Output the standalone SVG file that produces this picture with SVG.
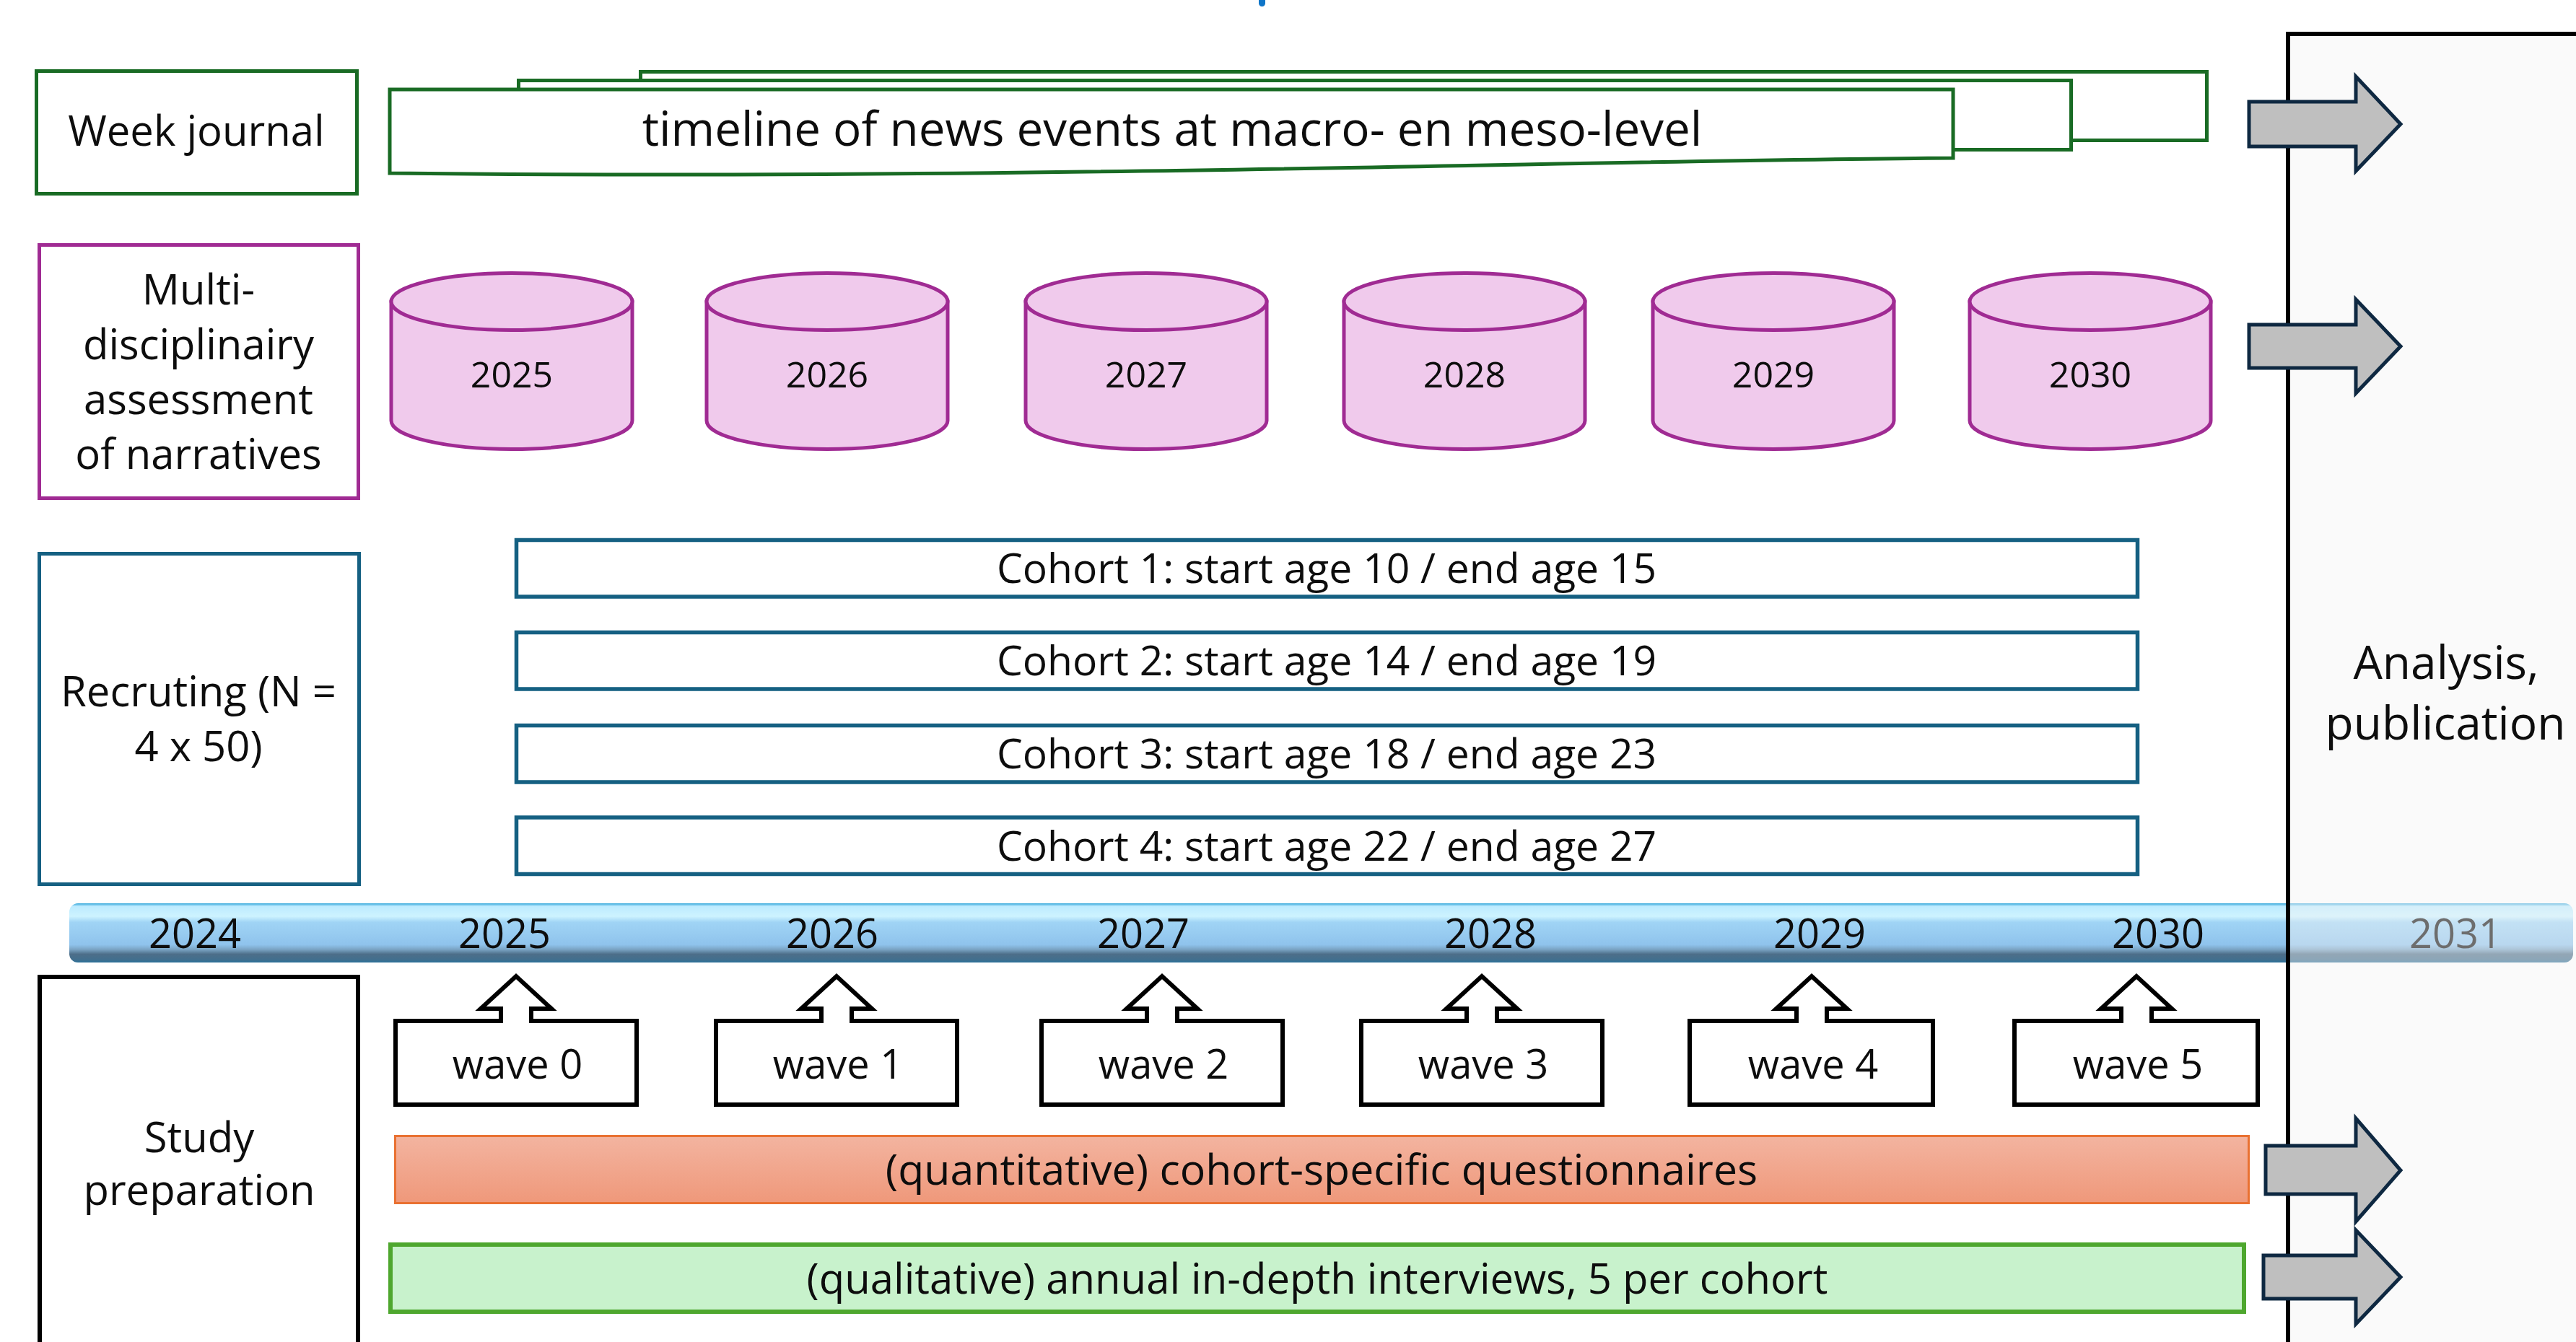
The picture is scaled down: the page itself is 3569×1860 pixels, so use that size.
<svg xmlns="http://www.w3.org/2000/svg" width="3569" height="1860" viewBox="0 0 3569 1860">
<defs>
<style>
.t{font-family:"Open Sans","Noto Sans","Liberation Sans",sans-serif;fill:#0d0d0d;text-anchor:middle}
.lbl{font-size:58px}
.coh{font-size:57px}
.yr{font-size:56px}
.cyl{fill:#F0CAEC;stroke:#A02B93;stroke-width:5}
.cohort{fill:#fff;stroke:#156082;stroke-width:5.5}
.wave{fill:#fff;stroke:#000;stroke-width:6;stroke-linejoin:miter}
.arr{fill:#BFBFBF;stroke:#0E2841;stroke-width:5;stroke-linejoin:miter}
.doc{fill:#fff;stroke:#196B24;stroke-width:5}
</style>
<linearGradient id="bar" x1="0" y1="0" x2="0" y2="1">
<stop offset="0" stop-color="#33A6DA"/>
<stop offset="0.05" stop-color="#BDEBFF"/>
<stop offset="0.22" stop-color="#CDF3FF"/>
<stop offset="0.32" stop-color="#A0D4F5"/>
<stop offset="0.7" stop-color="#8FC3EC"/>
<stop offset="0.78" stop-color="#7AA4C4"/>
<stop offset="0.86" stop-color="#4D6E89"/>
<stop offset="0.95" stop-color="#426F8E"/>
<stop offset="1" stop-color="#2A7098"/>
</linearGradient>
<linearGradient id="orange" x1="0" y1="0" x2="0" y2="1">
<stop offset="0" stop-color="#F3B4A0"/>
<stop offset="1" stop-color="#EF987A"/>
</linearGradient>
</defs>
<rect x="0" y="0" width="3569" height="1860" fill="#fff"/>

<!-- fragment of cut-off title glyph -->
<rect x="1744" y="-6" width="9" height="15" rx="4.5" fill="#0F75C8"/>

<!-- timeline bar -->
<g id="timeline-bar">
<rect x="96" y="1252" width="3469" height="82" rx="12" fill="url(#bar)"/>
<text class="t yr" x="270" y="1314">2024</text>
<text class="t yr" x="699" y="1314">2025</text>
<text class="t yr" x="1153" y="1314">2026</text>
<text class="t yr" x="1584" y="1314">2027</text>
<text class="t yr" x="2065" y="1314">2028</text>
<text class="t yr" x="2521" y="1314">2029</text>
<text class="t yr" x="2990" y="1314">2030</text>
<text class="t yr" x="3402" y="1314">2031</text>
</g>

<!-- analysis box (semi-transparent over bar) -->
<g id="analysis">
<rect x="3170" y="47" width="520" height="1900" fill="#F2F2F2" fill-opacity="0.42" stroke="#000" stroke-width="6"/>
<text class="t" style="font-size:64px" x="3389" y="941">Analysis,</text>
<text class="t" style="font-size:64px" x="3388" y="1025">publication</text>
</g>

<!-- left row labels -->
<g id="week-journal">
<rect x="50.5" y="98.5" width="444" height="170" fill="#fff" stroke="#196B24" stroke-width="5"/>
<text class="t lbl" x="272" y="202">Week journal</text>
</g>
<g id="multidisciplinary">
<rect x="54.5" y="339.5" width="442" height="351" fill="#fff" stroke="#A02B93" stroke-width="5"/>
<text class="t lbl" x="275" y="422">Multi-</text>
<text class="t lbl" x="275" y="498">disciplinairy</text>
<text class="t lbl" x="275" y="574">assessment</text>
<text class="t lbl" x="275" y="650">of narratives</text>
</g>
<g id="recruiting">
<rect x="54.5" y="767.5" width="443" height="458" fill="#fff" stroke="#156082" stroke-width="5"/>
<text class="t lbl" x="275" y="979">Recruting (N =</text>
<text class="t lbl" x="275" y="1055">4 x 50)</text>
</g>
<g id="study-preparation">
<rect x="55" y="1354" width="441" height="700" fill="#fff" stroke="#000" stroke-width="6"/>
<text class="t lbl" x="276" y="1597">Study</text>
<text class="t lbl" x="276" y="1670">preparation</text>
</g>

<!-- news timeline (stacked documents) -->
<g id="news-timeline">
<rect class="doc" x="887.5" y="99.5" width="2170" height="95"/>
<rect class="doc" x="718.5" y="111.5" width="2151" height="96"/>
<path class="doc" stroke-width="4.5" d="M540,124 H2706 V219 C2200,222 1400,250 540,240 Z"/>
<text class="t" style="font-size:65.5px" x="1624" y="202">timeline of news events at macro- en meso-level</text>
</g>

<!-- narratives cylinders -->
<g id="cyl-2025">
<path class="cyl" d="M542,418 V583 A167,39.5 0 0 0 876,583 V418 Z"/>
<ellipse class="cyl" cx="709" cy="418" rx="167" ry="39.5"/>
<text class="t" style="font-size:50px" x="709" y="537">2025</text>
</g>
<g id="cyl-2026">
<path class="cyl" d="M979,418 V583 A167,39.5 0 0 0 1313,583 V418 Z"/>
<ellipse class="cyl" cx="1146" cy="418" rx="167" ry="39.5"/>
<text class="t" style="font-size:50px" x="1146" y="537">2026</text>
</g>
<g id="cyl-2027">
<path class="cyl" d="M1421,418 V583 A167,39.5 0 0 0 1755,583 V418 Z"/>
<ellipse class="cyl" cx="1588" cy="418" rx="167" ry="39.5"/>
<text class="t" style="font-size:50px" x="1588" y="537">2027</text>
</g>
<g id="cyl-2028">
<path class="cyl" d="M1862,418 V583 A167,39.5 0 0 0 2196,583 V418 Z"/>
<ellipse class="cyl" cx="2029" cy="418" rx="167" ry="39.5"/>
<text class="t" style="font-size:50px" x="2029" y="537">2028</text>
</g>
<g id="cyl-2029">
<path class="cyl" d="M2290,418 V583 A167,39.5 0 0 0 2624,583 V418 Z"/>
<ellipse class="cyl" cx="2457" cy="418" rx="167" ry="39.5"/>
<text class="t" style="font-size:50px" x="2457" y="537">2029</text>
</g>
<g id="cyl-2030">
<path class="cyl" d="M2729,418 V583 A167,39.5 0 0 0 3063,583 V418 Z"/>
<ellipse class="cyl" cx="2896" cy="418" rx="167" ry="39.5"/>
<text class="t" style="font-size:50px" x="2896" y="537">2030</text>
</g>

<!-- cohorts -->
<g id="cohort-1">
<rect class="cohort" x="715.5" y="748.5" width="2246" height="78.5"/>
<text class="t coh" x="1838" y="808">Cohort 1: start age 10 / end age 15</text>
</g>
<g id="cohort-2">
<rect class="cohort" x="715.5" y="876.5" width="2246" height="78.5"/>
<text class="t coh" x="1838" y="936">Cohort 2: start age 14 / end age 19</text>
</g>
<g id="cohort-3">
<rect class="cohort" x="715.5" y="1005.5" width="2246" height="78.5"/>
<text class="t coh" x="1838" y="1065">Cohort 3: start age 18 / end age 23</text>
</g>
<g id="cohort-4">
<rect class="cohort" x="715.5" y="1133" width="2246" height="78.5"/>
<text class="t coh" x="1838" y="1193">Cohort 4: start age 22 / end age 27</text>
</g>

<!-- waves (callouts with up arrows) -->
<g id="wave-0">
<path class="wave" d="M548,1415 H694 V1398 H666 L715,1353 L764,1398 H736 V1415 H882 V1531 H548 Z"/>
<text class="t yr" x="717" y="1495">wave 0</text>
</g>
<g id="wave-1">
<path class="wave" d="M992,1415 H1138 V1398 H1110 L1159,1353 L1208,1398 H1180 V1415 H1326 V1531 H992 Z"/>
<text class="t yr" x="1161" y="1495">wave 1</text>
</g>
<g id="wave-2">
<path class="wave" d="M1443,1415 H1589 V1398 H1561 L1610,1353 L1659,1398 H1631 V1415 H1777 V1531 H1443 Z"/>
<text class="t yr" x="1612" y="1495">wave 2</text>
</g>
<g id="wave-3">
<path class="wave" d="M1886,1415 H2032 V1398 H2004 L2053,1353 L2102,1398 H2074 V1415 H2220 V1531 H1886 Z"/>
<text class="t yr" x="2055" y="1495">wave 3</text>
</g>
<g id="wave-4">
<path class="wave" d="M2341,1415 H2489 V1398 H2461 L2510,1353 L2559,1398 H2531 V1415 H2678 V1531 H2341 Z"/>
<text class="t yr" x="2512" y="1495">wave 4</text>
</g>
<g id="wave-5">
<path class="wave" d="M2791,1415 H2939 V1398 H2911 L2960,1353 L3009,1398 H2981 V1415 H3128 V1531 H2791 Z"/>
<text class="t yr" x="2962" y="1495">wave 5</text>
</g>

<!-- quantitative / qualitative bars -->
<g id="questionnaires">
<rect x="547.5" y="1574.5" width="2568" height="93" fill="url(#orange)" stroke="#E97132" stroke-width="3"/>
<text class="t" style="font-size:59px" x="1831" y="1642">(quantitative) cohort-specific questionnaires</text>
</g>
<g id="interviews">
<rect x="541" y="1725" width="2568" height="93" fill="#C8F2CC" stroke="#4EA72E" stroke-width="6"/>
<text class="t" style="font-size:58px" x="1825" y="1793">(qualitative) annual in-depth interviews, 5 per cohort</text>
</g>

<!-- connectors: block arrows into analysis -->
<g id="connectors">
<path class="arr" d="M3116,141 H3264 V106 L3326,172 L3264,237 V203 H3116 Z"/>
<path class="arr" d="M3116,450 H3264 V415 L3326,480 L3264,545 V510 H3116 Z"/>
<path class="arr" d="M3139,1588 H3264 V1550 L3326,1622 L3264,1693 V1655 H3139 Z"/>
<path class="arr" d="M3136,1740 H3264 V1705 L3326,1770 L3264,1835 V1800 H3136 Z"/>
</g>
</svg>
